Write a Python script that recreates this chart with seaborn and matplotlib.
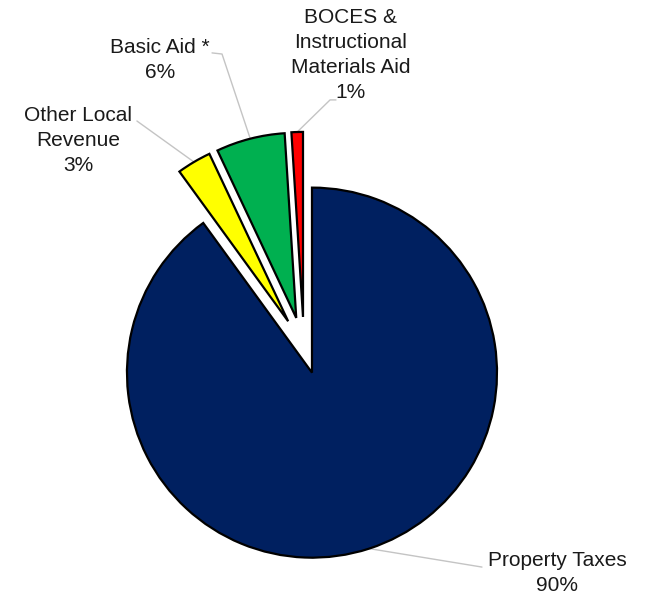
import matplotlib
matplotlib.use("Agg")
import matplotlib.pyplot as plt
import numpy as np
import seaborn as sns

sns.set_theme(style="white")
plt.rcParams['font.family'] = ['Liberation Sans', 'DejaVu Sans']

# Revenue sources (percent of total)
categories = ["Property Taxes", "Other Local\nRevenue", "Basic Aid *",
              "BOCES &\nInstructional\nMaterials Aid"]
shares = [90, 3, 6, 1]
colors = ["#002060", "#FFFF00", "#00B050", "#FF0000"]
explode = [0.14, 0.168, 0.168, 0.168]

# label text centres and the leader-line elbows that lead back to each slice
label_pos = [(1.368, -1.216), (-1.222, 1.119), (-0.778, 1.557), (0.254, 1.584)]
leader_pts = [
    [(0.962, -1.184)],
    [(-0.903, 1.227)],
    [(-0.497, 1.595), (-0.443, 1.589)],
    [(0.173, 1.341), (0.141, 1.341)],
]

fig = plt.figure(figsize=(6.52, 5.95), dpi=100)
ax = fig.add_axes([0, 0, 1, 1])

wedges, _ = ax.pie(shares, colors=colors, explode=explode, startangle=90,
                   counterclock=False, radius=1.0,
                   wedgeprops=dict(edgecolor="black", linewidth=1.6))

ax.set_xlim(-1.643, 1.881)
ax.set_ylim(-1.335, 1.881)
ax.set_aspect("auto")
ax.axis("off")

for w, cat, val, pos, pts in zip(wedges, categories, shares, label_pos, leader_pts):
    mid = np.deg2rad((w.theta1 + w.theta2) / 2)
    cx, cy = w.center
    edge = (cx + w.r * np.cos(mid), cy + w.r * np.sin(mid))
    path = [edge] + pts[::-1]
    xs, ys = zip(*path)
    ax.plot(xs, ys, color="#c4c4c4", lw=1.0, zorder=0)
    ax.text(pos[0], pos[1], f"{cat}\n{val}%", ha="center", va="center",
            fontsize=15, linespacing=1.4, color="#1a1a1a")

fig.savefig("out.png", dpi=100)
